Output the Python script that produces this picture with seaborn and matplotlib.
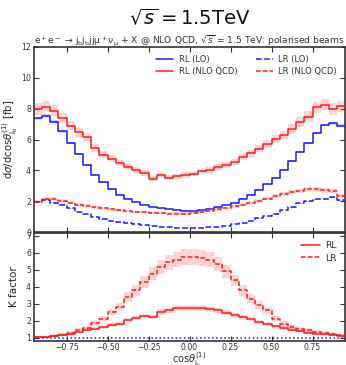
import numpy as np
import pandas as pd
import seaborn as sns
import matplotlib
matplotlib.use("Agg")
import matplotlib.pyplot as plt
from matplotlib.lines import Line2D

# Binning in cos(theta) of the leading b-jet
bin_edges = np.round(np.arange(-0.95, 0.9501, 0.05), 4)

# Differential cross sections [fb] per bin
rl_lo = [7.38, 7.55, 7.16, 6.52, 5.78, 5.07, 4.32, 3.72, 3.23, 2.77, 2.43, 2.15, 1.94,
         1.74, 1.63, 1.55, 1.48, 1.42, 1.38, 1.37, 1.42, 1.48, 1.59, 1.74, 1.89, 2.17,
         2.43, 2.75, 3.10, 3.53, 4.04, 4.60, 5.18, 5.78, 6.41, 6.95, 7.05, 6.90]
rl_nlo = [7.98, 8.13, 7.87, 7.40, 6.90, 6.47, 6.15, 5.46, 5.00, 4.75, 4.47, 4.21, 4.04,
          3.83, 3.46, 3.68, 3.53, 3.63, 3.70, 3.78, 3.93, 4.04, 4.21, 4.32, 4.54, 4.86,
          5.12, 5.40, 5.72, 6.04, 6.30, 6.69, 7.12, 7.48, 8.09, 8.26, 7.98, 8.15]
lr_lo = [1.96, 2.10, 1.91, 1.78, 1.53, 1.31, 1.14, 0.99, 0.82, 0.73, 0.62, 0.56, 0.50,
         0.43, 0.39, 0.34, 0.30, 0.28, 0.25, 0.24, 0.28, 0.30, 0.34, 0.41, 0.50, 0.60,
         0.71, 0.88, 1.03, 1.20, 1.42, 1.59, 1.85, 2.00, 2.11, 2.17, 2.24, 2.06]
lr_nlo = [1.96, 2.13, 2.13, 2.02, 1.91, 1.78, 1.70, 1.59, 1.53, 1.46, 1.40, 1.34, 1.29,
          1.27, 1.25, 1.23, 1.20, 1.20, 1.20, 1.25, 1.31, 1.38, 1.46, 1.55, 1.68, 1.76,
          1.89, 2.02, 2.17, 2.32, 2.45, 2.60, 2.66, 2.77, 2.77, 2.71, 2.66, 2.32]

# K factors (NLO / LO) per bin
k_rl = [1.04, 1.04, 1.10, 1.18, 1.24, 1.33, 1.47, 1.53, 1.61, 1.76, 1.82, 2.02, 2.16,
        2.28, 2.22, 2.51, 2.60, 2.74, 2.74, 2.76, 2.76, 2.67, 2.60, 2.47, 2.31, 2.20,
        2.08, 1.92, 1.80, 1.67, 1.57, 1.47, 1.39, 1.29, 1.24, 1.20, 1.14, 1.10]
k_lr = [1.04, 1.04, 1.10, 1.18, 1.27, 1.43, 1.57, 1.86, 2.12, 2.51, 2.80, 3.39, 3.78,
        4.27, 4.76, 5.16, 5.45, 5.59, 5.75, 5.75, 5.69, 5.59, 5.35, 4.90, 4.37, 3.78,
        3.29, 2.94, 2.60, 2.12, 1.82, 1.63, 1.53, 1.43, 1.33, 1.27, 1.20, 1.14]

# Relative scale-variation half widths
scale_unc = {"rl_lo": 0.012, "lr_lo": 0.015, "rl_nlo": 0.045, "lr_nlo": 0.055,
             "k_rl": 0.06, "k_lr": 0.08}

sns.set_theme(style="ticks")
plt.rcParams.update({
    "font.family": ["DejaVu Sans"],
    "mathtext.fontset": "dejavusans",
    "axes.edgecolor": "#333333",
    "axes.linewidth": 1.2,
    "xtick.direction": "in",
    "ytick.direction": "in",
    "xtick.top": True,
    "ytick.right": True,
    "xtick.color": "#333333",
    "ytick.color": "#333333",
    "xtick.labelcolor": "#333333",
    "ytick.labelcolor": "#333333",
    "xtick.major.size": 3.5,
    "ytick.major.size": 3.5,
    "xtick.major.width": 0.8,
    "ytick.major.width": 0.8,
    "xtick.labelsize": 5.6,
    "ytick.labelsize": 5.6,
    "hatch.linewidth": 0.5,
})

centers = 0.5 * (bin_edges[:-1] + bin_edges[1:])
df = pd.DataFrame({"cos": centers, "rl_lo": rl_lo, "rl_nlo": rl_nlo,
                   "lr_lo": lr_lo, "lr_nlo": lr_nlo, "k_rl": k_rl, "k_lr": k_lr})

W, H = 346, 365
fig = plt.figure(figsize=(W / 100, H / 100), dpi=100)
left, right = 33.8 / W, 345.3 / W
ax_top = fig.add_axes([left, 1 - 232 / H, right - left, (232 - 47) / H])
ax_bot = fig.add_axes([left, 1 - 341 / H, right - left, (341 - 232.5) / H], sharex=ax_top)


def band(ax, col, color, hatch):
    vals = df[col].to_numpy()
    lo = np.append(vals * (1 - scale_unc[col]), vals[-1] * (1 - scale_unc[col]))
    hi = np.append(vals * (1 + scale_unc[col]), vals[-1] * (1 + scale_unc[col]))
    ax.fill_between(bin_edges, lo, hi, step="post", facecolor=color,
                    edgecolor=(1.0, 0.7, 0.7, 0.6) if hatch else "none",
                    hatch="////" if hatch else None, linewidth=0, zorder=1)


def step(ax, col, color, ls):
    sns.histplot(data=df, x="cos", weights=col, bins=list(bin_edges), element="step",
                 fill=False, color=color, linestyle=ls, linewidth=1.1, ax=ax, zorder=3)


RED, BLUE = "#ff1a1a", "#1a1aff"
PINK, LBLUE = (1.0, 0.3, 0.3, 0.22), (0.3, 0.3, 1.0, 0.25)

# Upper panel: differential distributions
for col, c, fc, ls, h in [("rl_lo", BLUE, LBLUE, "-", False), ("lr_lo", BLUE, LBLUE, "--", False),
                          ("rl_nlo", RED, PINK, "-", True), ("lr_nlo", RED, PINK, (0, (3, 1.5)), True)]:
    band(ax_top, col, fc, h)
    step(ax_top, col, c, ls)

ax_top.set_xlim(-0.95, 0.95)
ax_top.set_ylim(0, 12)
ax_top.set_yticks([0, 2, 4, 6, 8, 10, 12])
ax_top.set_xticks([-0.75, -0.5, -0.25, 0, 0.25, 0.5, 0.75])
ax_top.tick_params(labelbottom=False)
ax_top.set_xlabel("")
ax_top.set_ylabel(r"d$\sigma$/dcos$\theta_{\mathrm{j_b}}^{(1)}$ [fb]", fontsize=7.3, labelpad=1.5)

top_handles = [Line2D([], [], color=BLUE, lw=1.1, ls="-"),
               Line2D([], [], color=RED, lw=1.1, ls="-"),
               Line2D([], [], color=BLUE, lw=1.1, ls="--"),
               Line2D([], [], color=RED, lw=1.1, ls=(0, (3, 1.5)))]
top_labels = ["RL (LO)", "RL (NLO QCD)", "LR (LO)", "LR (NLO QCD)"]
ax_top.legend(top_handles, top_labels, ncol=2, frameon=False, fontsize=6,
              loc="upper right", bbox_to_anchor=(1.0, 1.0), handlelength=2.0,
              columnspacing=2.2, handletextpad=0.7, labelspacing=0.35,
              borderaxespad=0.6, labelcolor="#333333")

# Lower panel: K factors
ax_bot.axhline(1.0, color=BLUE, ls=":", lw=1.1, zorder=2)
for col, ls in [("k_rl", "-"), ("k_lr", (0, (3, 1.5)))]:
    band(ax_bot, col, PINK, True)
    step(ax_bot, col, RED, ls)

ax_bot.set_ylim(0.8, 7.2)
ax_bot.set_yticks([1, 2, 3, 4, 5, 6, 7])
ax_bot.set_xlim(-0.95, 0.95)
ax_bot.set_xticks([-0.75, -0.5, -0.25, 0, 0.25, 0.5, 0.75])
ax_bot.set_xticklabels(["\u22120.75", "\u22120.50", "\u22120.25", "0.00", "0.25", "0.50", "0.75"])
ax_bot.set_ylabel("K factor", fontsize=7.5, labelpad=5)
ax_bot.set_xlabel(r"cos$\theta_{\mathrm{j_b}}^{(1)}$", fontsize=7.0, labelpad=0)
ax_bot.xaxis.set_label_coords(0.5, -0.085)
bot_handles = [Line2D([], [], color=RED, lw=1.1, ls="-"),
               Line2D([], [], color=RED, lw=1.1, ls=(0, (3, 1.5)))]
ax_bot.legend(bot_handles, ["RL", "LR"], frameon=False, fontsize=6.7, loc="upper right",
              handlelength=2.0, handletextpad=0.6, labelspacing=0.4, borderaxespad=0.5,
              labelcolor="#333333")

for ax in (ax_top, ax_bot):
    ax.tick_params(axis="both", pad=2)
ax_bot.tick_params(axis="x", pad=1.5)

xc = (left + right) / 2
fig.text(xc, 1 - 18 / H, r"$\sqrt{s} = 1.5$TeV", ha="center", va="center", fontsize=14,
         color="#111111")
fig.text(xc, 1 - 41 / H,
         r"e$^+$e$^-$ → j$_\mathrm{b}$j$_\mathrm{b}$jjμ$^+$ν$_\mathrm{μ}$ + X @ NLO QCD, "
         r"$\sqrt{s}$ = 1.5 TeV: polarised beams",
         ha="center", va="center", fontsize=6.6, color="#333333")

fig.savefig("out.png", dpi=100)
